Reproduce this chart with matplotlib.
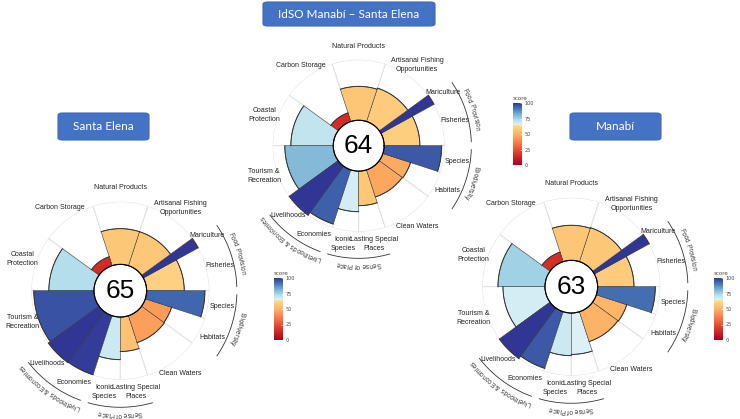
import numpy as np
import matplotlib.pyplot as plt
from matplotlib.colors import LinearSegmentedColormap, Normalize
from matplotlib.cm import ScalarMappable
from matplotlib.patches import FancyBboxPatch
from matplotlib.textpath import TextPath
from matplotlib.font_manager import FontProperties

# goals, counter-clockwise from 3 o'clock
goals = ['Fisheries', 'Mariculture', 'Artisanal Fishing\nOpportunities', 'Natural Products',
         'Carbon Storage', 'Coastal\nProtection', 'Tourism &\nRecreation', 'Livelihoods',
         'Economies', 'Iconic\nSpecies', 'Lasting Special\nPlaces', 'Clean Waters',
         'Habitats', 'Species']
weights = [0.8, 0.2, 1, 1, 1, 1, 1, 0.5, 0.5, 0.5, 0.5, 1, 0.5, 0.5]

idso_scores = [59, 100, 58, 56, 15, 70, 80, 100, 94, 67, 57, 47, 48, 95]
santa_elena_scores = [60, 100, 57, 57, 15, 72, 96, 100, 99, 68, 55, 45, 44, 93]
manabi_scores = [58, 100, 57, 56, 16, 75, 67, 100, 95, 68, 66, 50, 51, 92]
index_values = [64, 65, 63]
titles = ['IdSO Manabí – Santa Elena', 'Santa Elena', 'Manabí']

supra_names = ['Food Provision', 'Biodiversity', 'Sense of Place', 'Livelihoods & Economies']
supra_members = [(0, 1), (12, 13), (9, 10), (7, 8)]

W, H = 740, 419
BLANK = 42

# OHI flower palette
reds = ['#A50026', '#D73027', '#F46D43', '#FDAE61', '#FEE090']
blues = ['#E0F3F8', '#ABD9E9', '#74ADD1', '#4575B4', '#313695']
nodes = list(np.linspace(0, 0.65, 5)) + list(np.linspace(0.6501, 1, 5))
cmap = LinearSegmentedColormap.from_list('ohi', list(zip(nodes, reds + blues)), N=256)
norm = Normalize(0, 100)

lab_font = FontProperties(family='Liberation Sans', size=5)
dark = '#333333'

fig = plt.figure(figsize=(W / 100, H / 100), dpi=100)

edges = np.concatenate([[0], np.cumsum(weights)]) / sum(weights) * 2 * np.pi
centers = (edges[:-1] + edges[1:]) / 2
widths = np.diff(edges)


def ink_width(s, fs):
    if not s.strip():
        return 0
    return TextPath((0, 0), s, size=fs, prop=lab_font).get_extents().x1


def curved_text(ax, text, th_c, r, R, fs):
    r_px = (r + BLANK) / (100 + BLANK) * R
    px = 100 / 72
    total = ink_width(text, fs) * px
    for i, ch in enumerate(text):
        if ch == ' ':
            continue
        right = ink_width(text[:i + 1], fs) * px
        cw = TextPath((0, 0), ch, size=fs, prop=lab_font).get_extents().width * px
        d = right - cw / 2 - total / 2
        th = th_c - d / r_px
        ax.text(th, r, ch, rotation=np.degrees(th) - 90, rotation_mode='anchor',
                ha='center', va='center', fontsize=fs, family='Liberation Sans',
                color=dark)


def flower(cx, cy, R, scores, index_val):
    ax = fig.add_axes([(cx - R) / W, 1 - (cy + R) / H, 2 * R / W, 2 * R / H],
                      projection='polar')
    ax.set_rorigin(-BLANK)
    ax.set_ylim(0, 100)
    ax.set_facecolor('none')
    for s in ax.spines.values():
        s.set_visible(False)
    ax.grid(False)
    ax.set_xticks([])
    ax.set_yticks([])

    ax.bar(centers, 100, width=widths, bottom=0, color='white',
           edgecolor='#e0e0e0', linewidth=0.7, align='center')
    ax.bar(centers, scores, width=widths, bottom=0, color=cmap(norm(scores)),
           edgecolor=dark, linewidth=0.35, align='center')
    for e0, e1, sc in zip(edges[:-1], edges[1:], scores):
        t = np.linspace(e0, e1, 30)
        ax.plot(t, np.full_like(t, sc), color=dark, lw=0.7, clip_on=False)
    t = np.linspace(0, 2 * np.pi, 200)
    ax.plot(t, np.zeros_like(t), color=dark, lw=0.7, clip_on=False)
    ax.text(0.5, 0.5, str(index_val), transform=ax.transAxes, ha='center',
            va='center', fontsize=19, family='Liberation Sans', color='black')

    for th, g in zip(centers, goals):
        ax.text(th, 122, g, ha='center', va='center', fontsize=5,
                family='Liberation Sans', color='#222222', linespacing=1.4)

    for name, (a, b) in zip(supra_names, supra_members):
        e0, e1 = edges[min(a, b)], edges[max(a, b) + 1]
        pad = np.radians(2)
        t = np.linspace(e0 + pad, e1 - pad, 60)
        ax.plot(t, np.full_like(t, 144), color=dark, lw=0.6, clip_on=False)
        curved_text(ax, name, (e0 + e1) / 2, 155, R, 4.7)
    return ax


def score_bar(x0, y0):
    cax = fig.add_axes([x0 / W, 1 - (y0 + 62) / H, 9 / W, 62 / H])
    cb = fig.colorbar(ScalarMappable(norm=norm, cmap=cmap), cax=cax,
                      ticks=[0, 25, 50, 75, 100])
    cb.outline.set_visible(False)
    cax.tick_params(labelsize=3.5, length=1.5, width=0.4, color='white',
                    direction='in', pad=2, labelcolor='#444444')
    cax.set_title('score', fontsize=4, loc='left', pad=2, color='#444444')


def title_box(x0, y0, x1, y1, text, fs):
    box = FancyBboxPatch((x0 / W, 1 - y1 / H), (x1 - x0) / W, (y1 - y0) / H,
                         boxstyle='round,pad=0,rounding_size=0.006',
                         transform=fig.transFigure, facecolor='#4472c4',
                         edgecolor='#3f69b5', linewidth=0.8)
    fig.patches.append(box)
    fig.text((x0 + x1) / 2 / W, 1 - (y0 + y1) / 2 / H, text, ha='center',
             va='center', color='white', fontsize=fs, family='Lato')


flower(358.7, 145.7, 86, idso_scores, index_values[0])
flower(120.3, 290.7, 89, santa_elena_scores, index_values[1])
flower(571.3, 286.7, 89, manabi_scores, index_values[2])

score_bar(513, 103)
score_bar(274, 278)
score_bar(714, 278)

title_box(263, 2, 435, 26, titles[0], 8.5)
title_box(58, 113, 149, 140, titles[1], 8.5)
title_box(570, 113, 661, 140, titles[2], 8.5)

fig.savefig('out.png', dpi=100, facecolor='white')
